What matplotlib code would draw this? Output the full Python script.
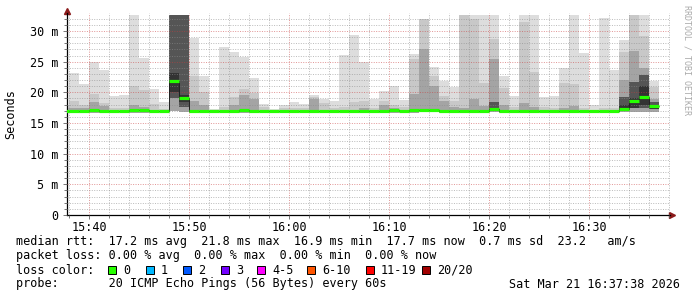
import numpy as np
import matplotlib
matplotlib.use("Agg")
import matplotlib.pyplot as plt
from matplotlib.ticker import MultipleLocator, FuncFormatter
from matplotlib.patches import Rectangle

plt.rcParams['font.family'] = ['DejaVu Sans Mono']

nan = np.nan

# one bar per minute, 15:37 .. 16:36 (minutes after 15:00)
minutes = np.arange(37, 97)

# median rtt per minute (ms)
median = [17.0, 16.9, 16.9, 17.1, 17.0, 17.0, 17.0, 17.2, 17.1, 17.0,
          17.0, 21.8, 19.0, 17.0, 16.9, 16.9, 17.0, 17.0, 17.1, 17.0,
          16.9, 16.9, 17.0, 17.0, 17.0, 17.0, 17.0, 17.0, 17.0, 17.0,
          17.0, 17.0, 17.0, 17.1, 16.9, 17.1, 17.2, 17.2, 17.0, 17.0,
          17.0, 16.9, 17.0, 17.3, 17.0, 17.0, 17.0, 16.9, 16.9, 16.9,
          16.9, 16.9, 16.9, 16.9, 16.9, 17.0, 17.3, 18.6, 19.3, 17.7]

# smoke: lowest and highest ping of the minute
rtt_min = [16.7, 16.7, 16.7, 16.7, 16.7, 16.6, 16.7, 16.7, 16.7, 16.7,
           16.7, 16.9, 16.8, 16.7, 16.6, 16.7, 16.7, 16.7, 16.6, 16.7,
           16.7, 16.7, 16.7, 16.7, 16.7, 16.7, 16.7, 16.7, 16.7, 16.7,
           16.7, 16.7, 16.7, 16.7, 16.7, 16.7, 16.8, 16.8, 16.7, 16.7,
           16.7, 16.7, 16.7, 16.8, 16.7, 16.7, 16.7, 16.7, 16.7, 16.7,
           16.7, 16.7, 16.7, 16.7, 16.7, 16.7, 16.8, 16.8, 16.8, 16.8]
rtt_max = [17.9, 23.2, 21.4, 25.0, 23.6, 19.4, 19.6, 32.6, 25.6, 20.6,
           18.4, 32.6, 32.6, 28.9, 22.7, 17.3, 27.4, 26.6, 25.8, 22.3,
           18.1, 17.3, 17.9, 18.4, 18.1, 19.6, 18.9, 18.6, 26.1, 29.3,
           25.0, 18.9, 20.2, 21.0, 18.7, 26.2, 31.9, 24.2, 21.9, 20.9,
           32.6, 32.6, 32.6, 32.6, 22.7, 19.4, 32.6, 32.6, 19.2, 19.4,
           23.9, 32.6, 26.4, 17.9, 32.1, 23.6, 28.5, 32.6, 32.6, 21.9]
# inner smoke layers (upper edges)
rtt_p90 = [17.4, 18.6, 17.9, 19.8, 18.2, 17.5, 17.5, 21.0, 20.4, 18.1,
           17.3, 32.6, 32.6, 22.6, 20.1, 17.1, 17.6, 19.2, 20.6, 19.9,
           17.6, nan, 17.4, 17.5, 17.4, 19.2, 18.2, 17.5, 17.6, 18.4,
           18.6, 17.5, 18.6, 18.0, 17.6, 25.4, 31.9, 22.6, 19.4, 18.6,
           32.6, 31.9, 21.6, 28.7, 20.7, 17.6, 31.4, 23.4, 17.6, 17.5,
           21.5, 21.4, 17.5, nan, 17.4, 17.4, 26.6, 32.6, 29.2, 20.8]
rtt_p75 = [nan, 17.4, 17.5, 18.5, 17.7, nan, nan, 17.9, 17.6, nan,
           nan, 32.6, 32.6, 18.6, 18.0, nan, nan, 17.9, 19.5, 18.9,
           nan, nan, nan, nan, nan, 18.9, nan, nan, nan, nan,
           17.4, nan, 18.0, 17.5, nan, 19.8, 27.0, 21.0, 18.6, 17.6,
           17.4, 18.9, 17.8, 25.4, 18.0, nan, 18.2, 17.6, nan, nan,
           17.5, 17.8, nan, nan, nan, nan, 22.0, 26.8, 23.9, 18.9]
# dark smoke where the pings spread out
dark_lo = {11: 19.0, 12: 17.6, 43: 17.0, 56: 17.3, 57: 17.5, 58: 17.5, 59: 17.3}
dark_hi = {11: 32.6, 12: 32.6, 43: 18.5, 56: 19.3, 57: 21.7, 58: 22.8, 59: 18.4}
core_lo = {11: 20.1, 12: 18.5, 56: 17.3, 57: 17.5, 58: 18.0, 59: 17.3}
core_hi = {11: 23.2, 12: 19.6, 56: 18.0, 57: 19.1, 58: 21.0, 59: 17.7}

loss_labels = ['0', '1', '2', '3', '4-5', '6-10', '11-19', '20/20']
loss_colors = ['#26ff00', '#00b8ff', '#0059ff', '#7300ff', '#ff00ff',
               '#ff5500', '#ff0000', '#a10000']

stats_line = "median rtt:  17.2 ms avg  21.8 ms max  16.9 ms min  17.7 ms now  0.7 ms sd  23.2   am/s"
loss_line = "packet loss: 0.00 % avg  0.00 % max  0.00 % min  0.00 % now"
probe_line = "probe:       20 ICMP Echo Pings (56 Bytes) every 60s"
stamp = "Sat Mar 21 16:37:38 2026"

W, H = 697, 297
fig = plt.figure(figsize=(W / 100, H / 100), dpi=100)
ax = fig.add_axes([67 / W, (H - 215) / H, 603 / W, 202 / H])

med = np.array(median)
lo = np.array(rtt_min)


def band(ax, x, bottom, top, color):
    bottom = np.asarray(bottom, dtype=float)
    top = np.asarray(top, dtype=float)
    ok = ~np.isnan(top)
    ax.bar(x[ok], top[ok] - bottom[ok], bottom=bottom[ok], width=1.0,
           align='edge', color=color, linewidth=0, zorder=1)


band(ax, minutes, lo, rtt_max, '#dddddd')
band(ax, minutes, lo, rtt_p90, '#c8c8c8')
band(ax, minutes, lo, rtt_p75, '#a4a4a4')
ix = list(dark_lo)
band(ax, minutes[ix], [dark_lo[i] for i in ix], [dark_hi[i] for i in ix], '#555555')
ix = list(core_lo)
band(ax, minutes[ix], [core_lo[i] for i in ix], [core_hi[i] for i in ix], '#333333')

# median: thin dark step + green segments
edges = np.append(minutes, minutes[-1] + 1)
ax.stairs(med, edges, baseline=None, color='#202020', lw=0.7, zorder=3)
ax.hlines(med, minutes, minutes + 1, color=loss_colors[0], lw=2.3, zorder=4)

ax.set_xlim(37.77, 98.07)
ax.set_ylim(0, 32.94)

ax.yaxis.set_major_locator(MultipleLocator(5))
ax.yaxis.set_minor_locator(MultipleLocator(1))
ax.xaxis.set_major_locator(MultipleLocator(10))
ax.xaxis.set_minor_locator(MultipleLocator(2))
ax.yaxis.set_major_formatter(FuncFormatter(lambda v, p: '0' if v == 0 else f'{v:.0f} m'))
ax.xaxis.set_major_formatter(FuncFormatter(lambda v, p: f'{15 + int(v) // 60}:{int(v) % 60:02d}'))

ax.grid(which='minor', color='#8c8c8c', alpha=0.6, lw=0.7, ls=(0, (1, 1.5)), zorder=5)
ax.grid(which='major', color='#c83c3c', alpha=0.55, lw=0.7, ls=(0, (1, 1.5)), zorder=5)
ax.set_axisbelow(False)

ax.tick_params(which='both', direction='out', color='#606060', width=0.6,
               labelsize=8.5, labelcolor='black')
ax.tick_params(which='major', length=3)
ax.tick_params(axis='x', which='major', pad=1)
ax.tick_params(axis='y', which='major', pad=3)
ax.tick_params(which='minor', length=2)

for s in ['top', 'right']:
    ax.spines[s].set_visible(False)
for s in ['left', 'bottom']:
    ax.spines[s].set_color('black')
    ax.spines[s].set_linewidth(0.9)
ax.plot([0], [1.01], marker='^', ms=4.5, color='#8b1a1a', transform=ax.transAxes, clip_on=False)
ax.plot([1.004], [0], marker='>', ms=4.5, color='#8b1a1a', transform=ax.transAxes, clip_on=False)

fig.text(11 / W, 1 - 114 / H, 'Seconds', rotation=90, ha='center', va='center', fontsize=8.5)
fig.text(687 / W, 1 - 60 / H, 'RRDTOOL / TOBI OETIKER', rotation=270, ha='center', va='center',
         fontsize=6, color='#aaaaaa')

fs = 8.5
fig.text(16 / W, 1 - 242 / H, stats_line, ha='left', va='center', fontsize=fs)
fig.text(16 / W, 1 - 256 / H, loss_line, ha='left', va='center', fontsize=fs)
fig.text(16 / W, 1 - 270 / H, 'loss color:', ha='left', va='center', fontsize=fs)
fig.text(16 / W, 1 - 284 / H, probe_line, ha='left', va='center', fontsize=fs)
fig.text(680 / W, 1 - 284 / H, stamp, ha='right', va='center', fontsize=fs)

sq_x = [108, 146, 183, 221, 257, 307, 366, 422]
for x, lab, c in zip(sq_x, loss_labels, loss_colors):
    fig.patches.append(Rectangle((x / W, (H - 274) / H), 8 / W, 8 / H, transform=fig.transFigure,
                                 facecolor=c, edgecolor='black', lw=0.7))
    fig.text((x + 15) / W, 1 - 270 / H, lab, ha='left', va='center', fontsize=fs)

fig.savefig('out.png', dpi=100)
